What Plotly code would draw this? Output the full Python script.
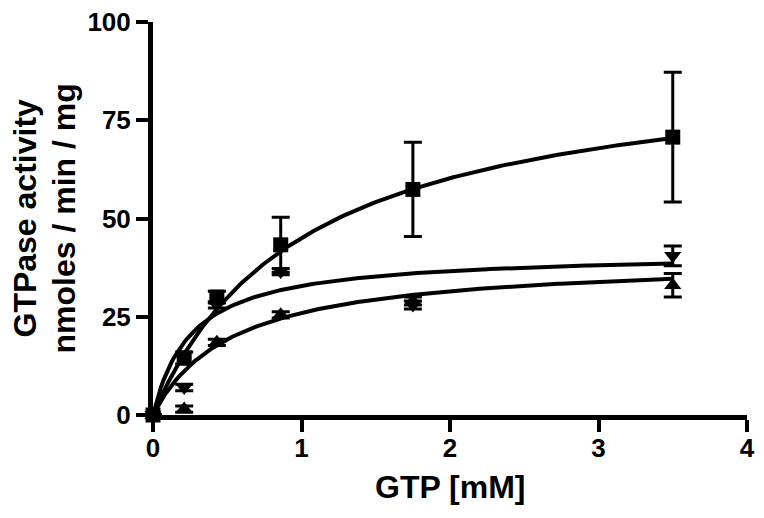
import numpy as np
import plotly.graph_objects as go

# Data
gtp = [0, 0.21, 0.43, 0.86, 1.75, 3.5]
sq_y = [0, 14.5, 30, 43.3, 57.4, 70.7]
sq_err = [0, 1.5, 1.5, 7, 12, 16.5]
dn_y = [0, 7, 28, 36.5, 28, 40.5]
dn_err = [0, 0.8, 0.8, 0.8, 1, 2.5]
up_y = [0, 1.5, 18.5, 25.5, 29, 33]
up_err = [0, 0.8, 0.8, 0.8, 1, 3]

# Michaelis-Menten fit parameters (Vmax, Km) estimated from drawn curves
fit_sq = (91.0, 1.02)
fit_dn = (41.4, 0.26)
fit_up = (40.0, 0.54)

xticks = [0, 1, 2, 3, 4]
yticks = [0, 25, 50, 75, 100]
ytitle = ["GTPase activity", "nmoles / min / mg"]
xtitle = "GTP [mM]"

FONT = "Liberation Sans, Arial, sans-serif"

xf = np.linspace(0, 3.5, 200)

fig = go.Figure()
for (vm, km) in (fit_sq, fit_dn, fit_up):
    fig.add_trace(go.Scatter(x=xf, y=vm * xf / (km + xf), mode="lines",
                             line=dict(color="black", width=4), cliponaxis=False,
                             showlegend=False, hoverinfo="skip"))

for ys, er, sym, sz in ((sq_y, sq_err, "square", 15), (dn_y, dn_err, "triangle-down", 15),
                        (up_y, up_err, "triangle-up", 15)):
    fig.add_trace(go.Scatter(x=gtp, y=ys, mode="markers",
                             marker=dict(symbol=sym, size=sz, color="black"),
                             error_y=dict(type="data", array=er, visible=True, color="black",
                                          thickness=3, width=9),
                             cliponaxis=False, showlegend=False))

axis_font = dict(family=FONT, size=26, color="black")
common = dict(showline=True, linecolor="black", linewidth=5, ticks="outside",
              ticklen=12, tickwidth=4, tickcolor="black", showgrid=False, zeroline=False,
              tickfont=axis_font, automargin=False, ticklabeloverflow="allow")
fig.update_layout(
    width=764, height=518,
    margin=dict(l=145, r=25, t=14, b=111),
    paper_bgcolor="white", plot_bgcolor="white",
    font=dict(family=FONT, color="black"),
    xaxis=dict(range=[0, 4], tickvals=xticks, ticktext=[f"<b>{t}</b>" for t in xticks],
               ticklabelstandoff=-6, **common),
    yaxis=dict(range=[0, 100], tickvals=yticks, ticktext=[f"<b>{t}</b>" for t in yticks], **common),
)

fig.add_annotation(text=f"<b>{xtitle}</b>", xref="paper", yref="paper", x=0.5, y=0,
                   yshift=-72, showarrow=False, font=dict(family=FONT, size=32, color="black"),
                   xanchor="center", yanchor="middle")
for line, xs in zip(ytitle, [24, 63]):
    fig.add_annotation(text=f"<b>{line}</b>", xref="paper", yref="paper", x=0, y=0.5,
                       xshift=xs - 153, showarrow=False, textangle=-90,
                       font=dict(family=FONT, size=32, color="black"),
                       xanchor="center", yanchor="middle")

fig.write_html("out.html")
